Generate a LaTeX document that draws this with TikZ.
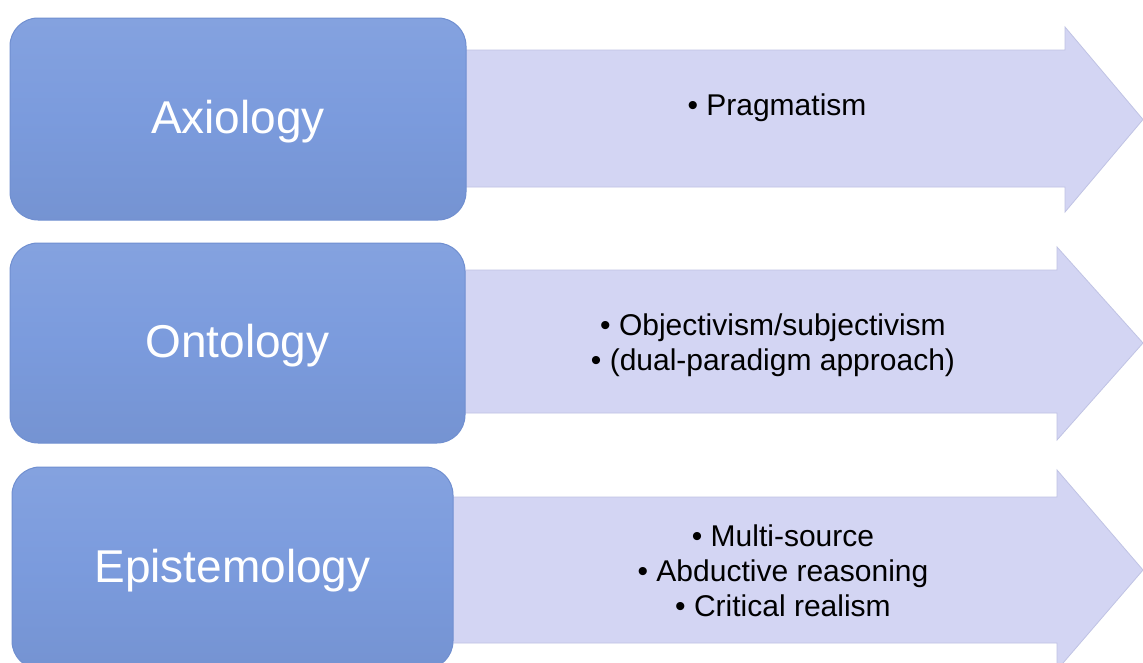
\documentclass[tikz,border=0pt]{standalone}
\usepackage{fontspec}
\setmainfont{Liberation Sans}
\usepackage{tikz}
\usetikzlibrary{calc}
\definecolor{box_blue}{RGB}{123, 155, 221}
\definecolor{box_edge}{RGB}{112, 143, 208}
\definecolor{arr_fill}{RGB}{211, 213, 243}
\definecolor{arr_edge}{RGB}{192, 195, 228}
\tikzstyle{bx}=[rectangle,rounded corners=28pt,top color=box_blue!93!white,
  bottom color=box_blue!95!black,middle color=box_blue,draw=box_edge,
  line width=1pt,text=white,font=\fontsize{46}{55}\selectfont,inner sep=0pt]
\tikzstyle{ar}=[fill=arr_fill,draw=arr_edge,line width=0.8pt]
\tikzstyle{lst}=[align=center,text=black,font=\fontsize{30}{35}\selectfont,inner sep=0pt]

\begin{document}
\begin{tikzpicture}[x=1pt,y=-1pt]
        \useasboundingbox (0,0) rectangle (1143,662);
        \clip (0,0) rectangle (1143,662);
        \fill[white] (0,0) rectangle (1143,662);
        % arrows
        \draw[style=ar] (440,50) -- (1065,50) -- (1065,27) -- (1143,119.5)
            -- (1065,212) -- (1065,187) -- (440,187) -- cycle;
        \draw[style=ar] (440,270) -- (1057,270) -- (1057,247) -- (1143,343)
            -- (1057,440) -- (1057,413) -- (440,413) -- cycle;
        \draw[style=ar] (430,497) -- (1057,497) -- (1057,470) -- (1143,570)
            -- (1057,670) -- (1057,643) -- (430,643) -- cycle;
        % boxes
        \node[style=bx,minimum width=456pt,minimum height=202pt] (ax) at (238,119) {};
        \node[style=bx,minimum width=455pt,minimum height=200pt] (on) at (237.5,343) {};
        \node[style=bx,minimum width=441pt,minimum height=202pt] (ep) at (232.5,568) {};
        \node[text=white,font=\fontsize{46}{55}\selectfont] (axt) at (238,122) {Axiology};
        \node[text=white,font=\fontsize{46}{55}\selectfont] (ont) at (237.5,346) {Ontology};
        \node[text=white,font=\fontsize{46}{55}\selectfont] (ept) at (232.5,571) {Epistemology};
        % lists
        \node[style=lst] (axl) at (777,108) {• Pragmatism};
        \node[style=lst] (onl) at (773,345) {• Objectivism/subjectivism\\• (dual-paradigm approach)};
        \node[style=lst] (epl) at (783,571) {• Multi-source\\• Abductive reasoning\\• Critical realism};
    \end{tikzpicture}
\end{document}
